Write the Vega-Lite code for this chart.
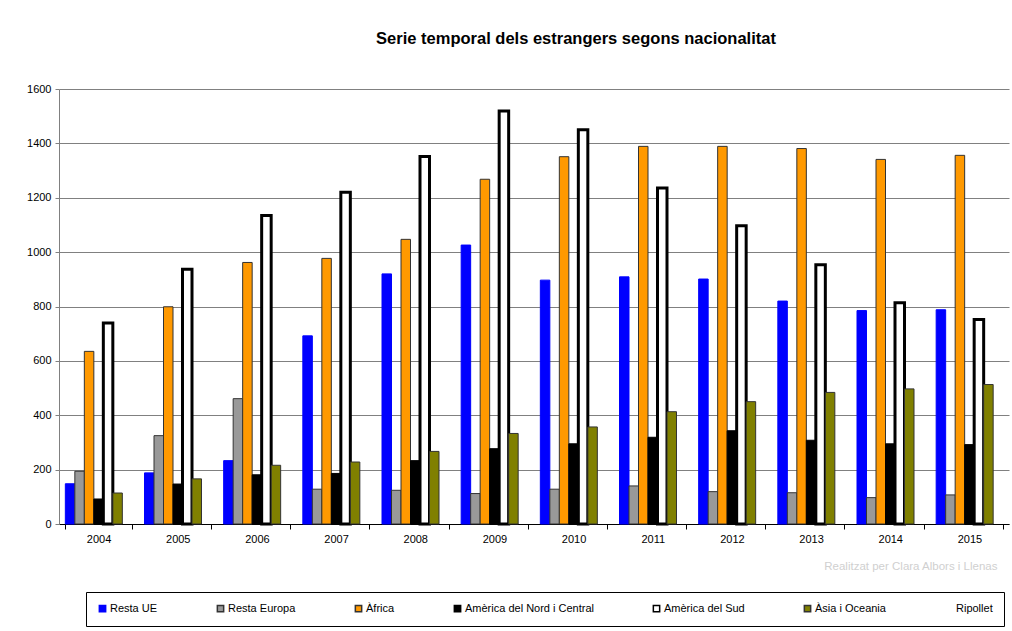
{
  "$schema": "https://vega.github.io/schema/vega-lite/v6.json",
  "width": 950,
  "height": 435,
  "autosize": {"type": "none"},
  "padding": {"left": 59, "top": 89, "right": 3, "bottom": 107},
  "background": "white",
  "title": {
    "text": "Serie temporal dels estrangers segons nacionalitat",
    "font": "Liberation Sans",
    "fontSize": 16.5,
    "fontWeight": "bold",
    "color": "#000000",
    "anchor": "middle",
    "dx": 42,
    "offset": 36
  },
  "config": {
    "view": {"stroke": null},
    "font": "Liberation Sans"
  },
  "data": {
    "values": [
      {"any": "2004", "serie": "Resta UE", "valor": 148},
      {"any": "2004", "serie": "Resta Europa", "valor": 194},
      {"any": "2004", "serie": "Àfrica", "valor": 635},
      {"any": "2004", "serie": "Amèrica del Nord i Central", "valor": 92},
      {"any": "2004", "serie": "Amèrica del Sud", "valor": 739},
      {"any": "2004", "serie": "Àsia i Oceania", "valor": 114},
      {"any": "2005", "serie": "Resta UE", "valor": 188},
      {"any": "2005", "serie": "Resta Europa", "valor": 325},
      {"any": "2005", "serie": "Àfrica", "valor": 799},
      {"any": "2005", "serie": "Amèrica del Nord i Central", "valor": 147},
      {"any": "2005", "serie": "Amèrica del Sud", "valor": 937},
      {"any": "2005", "serie": "Àsia i Oceania", "valor": 166},
      {"any": "2006", "serie": "Resta UE", "valor": 233},
      {"any": "2006", "serie": "Resta Europa", "valor": 461},
      {"any": "2006", "serie": "Àfrica", "valor": 962},
      {"any": "2006", "serie": "Amèrica del Nord i Central", "valor": 181},
      {"any": "2006", "serie": "Amèrica del Sud", "valor": 1135},
      {"any": "2006", "serie": "Àsia i Oceania", "valor": 216},
      {"any": "2007", "serie": "Resta UE", "valor": 692},
      {"any": "2007", "serie": "Resta Europa", "valor": 128},
      {"any": "2007", "serie": "Àfrica", "valor": 977},
      {"any": "2007", "serie": "Amèrica del Nord i Central", "valor": 186},
      {"any": "2007", "serie": "Amèrica del Sud", "valor": 1220},
      {"any": "2007", "serie": "Àsia i Oceania", "valor": 228},
      {"any": "2008", "serie": "Resta UE", "valor": 920},
      {"any": "2008", "serie": "Resta Europa", "valor": 124},
      {"any": "2008", "serie": "Àfrica", "valor": 1047},
      {"any": "2008", "serie": "Amèrica del Nord i Central", "valor": 233},
      {"any": "2008", "serie": "Amèrica del Sud", "valor": 1352},
      {"any": "2008", "serie": "Àsia i Oceania", "valor": 267},
      {"any": "2009", "serie": "Resta UE", "valor": 1026},
      {"any": "2009", "serie": "Resta Europa", "valor": 112},
      {"any": "2009", "serie": "Àfrica", "valor": 1268},
      {"any": "2009", "serie": "Amèrica del Nord i Central", "valor": 277},
      {"any": "2009", "serie": "Amèrica del Sud", "valor": 1519},
      {"any": "2009", "serie": "Àsia i Oceania", "valor": 333},
      {"any": "2010", "serie": "Resta UE", "valor": 897},
      {"any": "2010", "serie": "Resta Europa", "valor": 128},
      {"any": "2010", "serie": "Àfrica", "valor": 1351},
      {"any": "2010", "serie": "Amèrica del Nord i Central", "valor": 295},
      {"any": "2010", "serie": "Amèrica del Sud", "valor": 1450},
      {"any": "2010", "serie": "Àsia i Oceania", "valor": 357},
      {"any": "2011", "serie": "Resta UE", "valor": 909},
      {"any": "2011", "serie": "Resta Europa", "valor": 140},
      {"any": "2011", "serie": "Àfrica", "valor": 1389},
      {"any": "2011", "serie": "Amèrica del Nord i Central", "valor": 319},
      {"any": "2011", "serie": "Amèrica del Sud", "valor": 1236},
      {"any": "2011", "serie": "Àsia i Oceania", "valor": 413},
      {"any": "2012", "serie": "Resta UE", "valor": 901},
      {"any": "2012", "serie": "Resta Europa", "valor": 119},
      {"any": "2012", "serie": "Àfrica", "valor": 1389},
      {"any": "2012", "serie": "Amèrica del Nord i Central", "valor": 343},
      {"any": "2012", "serie": "Amèrica del Sud", "valor": 1097},
      {"any": "2012", "serie": "Àsia i Oceania", "valor": 450},
      {"any": "2013", "serie": "Resta UE", "valor": 820},
      {"any": "2013", "serie": "Resta Europa", "valor": 115},
      {"any": "2013", "serie": "Àfrica", "valor": 1381},
      {"any": "2013", "serie": "Amèrica del Nord i Central", "valor": 308},
      {"any": "2013", "serie": "Amèrica del Sud", "valor": 954},
      {"any": "2013", "serie": "Àsia i Oceania", "valor": 484},
      {"any": "2014", "serie": "Resta UE", "valor": 785},
      {"any": "2014", "serie": "Resta Europa", "valor": 97},
      {"any": "2014", "serie": "Àfrica", "valor": 1341},
      {"any": "2014", "serie": "Amèrica del Nord i Central", "valor": 295},
      {"any": "2014", "serie": "Amèrica del Sud", "valor": 814},
      {"any": "2014", "serie": "Àsia i Oceania", "valor": 497},
      {"any": "2015", "serie": "Resta UE", "valor": 788},
      {"any": "2015", "serie": "Resta Europa", "valor": 107},
      {"any": "2015", "serie": "Àfrica", "valor": 1356},
      {"any": "2015", "serie": "Amèrica del Nord i Central", "valor": 292},
      {"any": "2015", "serie": "Amèrica del Sud", "valor": 752},
      {"any": "2015", "serie": "Àsia i Oceania", "valor": 513}
    ]
  },
  "mark": {"type": "bar"},
  "encoding": {
    "x": {
      "field": "any",
      "type": "nominal",
      "scale": {"paddingInner": 0.16, "paddingOuter": 0.08},
      "axis": {
        "labelAngle": 0,
        "labelFont": "Liberation Sans",
        "labelFontSize": 11,
        "labelColor": "#000000",
        "labelPadding": 4,
        "tickBand": "extent",
        "tickSize": 5,
        "tickColor": "#000000",
        "domainColor": "#000000",
        "title": "Realitzat per Clara Albors i Llenas",
        "titleFont": "Liberation Sans",
        "titleFontSize": 11.5,
        "titleFontWeight": "normal",
        "titleColor": "#d0d0d0",
        "titleAnchor": "end",
        "titlePadding": 16,
        "titleX": 938
      }
    },
    "xOffset": {
      "field": "serie",
      "type": "nominal",
      "scale": {"domain": ["Resta UE", "Resta Europa", "Àfrica", "Amèrica del Nord i Central", "Amèrica del Sud", "Àsia i Oceania", "Ripollet"], "paddingInner": 0, "paddingOuter": 0}
    },
    "y": {
      "field": "valor",
      "type": "quantitative",
      "scale": {"domain": [0, 1600]},
      "axis": {
        "values": [0, 200, 400, 600, 800, 1000, 1200, 1400, 1600],
        "format": "d",
        "title": null,
        "labelFont": "Liberation Sans",
        "labelFontSize": 11,
        "labelColor": "#000000",
        "gridColor": "#808080",
        "gridWidth": 1,
        "tickColor": "#808080",
        "tickSize": 4,
        "domainColor": "#808080",
        "labelPadding": 4
      }
    },
    "fill": {
      "field": "serie",
      "type": "nominal",
      "scale": {
        "domain": ["Resta UE", "Resta Europa", "Àfrica", "Amèrica del Nord i Central", "Amèrica del Sud", "Àsia i Oceania", "Ripollet"],
        "range": ["#0000FF", "#999999", "#FF9900", "#000000", "#FFFFFF", "#808000", "rgba(0,0,0,0)"]
      },
      "legend": {
        "title": null,
        "orient": "none",
        "legendX": 27,
        "legendY": 503,
        "direction": "horizontal",
        "columns": 7,
        "columnPadding": 56,
        "padding": 11,
        "strokeColor": "#000000",
        "fillColor": "#ffffff",
        "symbolType": "square",
        "symbolSize": 40,
        "symbolOpacity": 1,
        "labelFont": "Liberation Sans",
        "labelFontSize": 11,
        "labelColor": "#000000",
        "labelOffset": 2,
        "labelLimit": 300
      }
    },
    "stroke": {
      "field": "serie",
      "type": "nominal",
      "scale": {
        "domain": ["Resta UE", "Resta Europa", "Àfrica", "Amèrica del Nord i Central", "Amèrica del Sud", "Àsia i Oceania", "Ripollet"],
        "range": ["#0000FF", "#333333", "#333333", "#000000", "#000000", "#333333", "rgba(0,0,0,0)"]
      }
    },
    "strokeWidth": {
      "condition": {"test": "datum.serie === 'Amèrica del Sud'", "value": 3},
      "value": 1
    }
  }
}
